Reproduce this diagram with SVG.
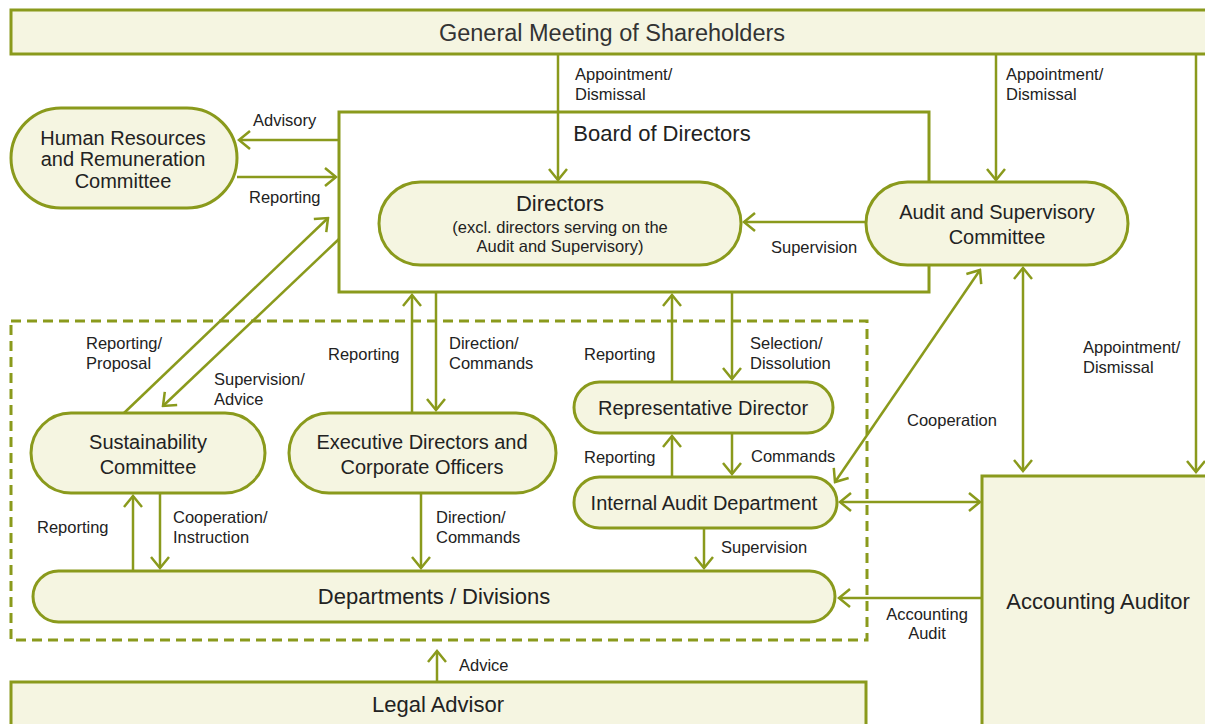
<svg xmlns="http://www.w3.org/2000/svg" width="1205" height="724" viewBox="0 0 1205 724">
<style>
.n{fill:#f5f5e1;stroke:#8a9a1c;stroke-width:3}
.w{fill:#ffffff;stroke:#8a9a1c;stroke-width:3}
.d{fill:none;stroke:#8a9a1c;stroke-width:3;stroke-dasharray:10 6}
.c{fill:none;stroke:#8a9a1c;stroke-width:2.5}
.a{marker-end:url(#ah)}
.b{marker-start:url(#ah);marker-end:url(#ah)}
text{font-family:"Liberation Sans",Arial,sans-serif;fill:#222}
.t23{font-size:23.5px;text-anchor:middle;fill:#333}
.t22{font-size:22px;text-anchor:middle}
.t20{font-size:20px;text-anchor:middle}
.l{font-size:16.5px}
.lc{font-size:16.5px;text-anchor:middle}
</style>
<defs>
<marker id="ah" viewBox="-2 -2 15 22" refX="11" refY="9" markerWidth="15" markerHeight="22" orient="auto-start-reverse" markerUnits="userSpaceOnUse">
<path d="M0,0 L11,9 L0,18" fill="none" stroke="#8a9a1c" stroke-width="2.5"/>
</marker>
</defs>

<g id="general-meeting">
<rect class="n" x="11" y="10" width="1200" height="44"/>
<text class="t23" x="612" y="41">General Meeting of Shareholders</text>
</g>

<g id="board">
<rect class="w" x="339" y="112" width="590" height="180"/>
<text class="t22" x="662" y="141">Board of Directors</text>
</g>

<g id="hr-committee">
<rect class="n" x="11" y="108" width="226" height="100" rx="50"/>
<text class="t20" x="123" y="145">Human Resources</text>
<text class="t20" x="123" y="166">and Remuneration</text>
<text class="t20" x="123" y="188">Committee</text>
</g>

<g id="directors">
<rect class="n" x="379" y="182" width="362" height="83" rx="41.5"/>
<text class="t22" x="560" y="211">Directors</text>
<text class="lc" x="560" y="233">(excl. directors serving on the</text>
<text class="lc" x="560" y="252">Audit and Supervisory)</text>
</g>

<g id="audit-committee">
<rect class="n" x="866" y="182" width="262" height="83" rx="41.5"/>
<text class="t20" x="997" y="219">Audit and Supervisory</text>
<text class="t20" x="997" y="244">Committee</text>
</g>

<g id="executive-scope">
<rect class="d" x="11" y="321" width="856" height="319"/>
</g>

<g id="sustainability">
<rect class="n" x="31" y="413" width="234" height="80" rx="40"/>
<text class="t20" x="148" y="449">Sustainability</text>
<text class="t20" x="148" y="474">Committee</text>
</g>

<g id="executive-directors">
<rect class="n" x="289" y="413" width="267" height="80" rx="40"/>
<text class="t20" x="422" y="449">Executive Directors and</text>
<text class="t20" x="422" y="474">Corporate Officers</text>
</g>

<g id="representative-director">
<rect class="n" x="574" y="382" width="259" height="51" rx="25.5"/>
<text class="t20" x="703" y="415">Representative Director</text>
</g>

<g id="internal-audit">
<rect class="n" x="574" y="477" width="263" height="51" rx="25.5"/>
<text class="t20" x="704" y="510">Internal Audit Department</text>
</g>

<g id="departments">
<rect class="n" x="33" y="571" width="802" height="51" rx="25.5"/>
<text class="t22" x="434" y="604">Departments / Divisions</text>
</g>

<g id="accounting-auditor">
<rect class="n" x="982" y="476" width="230" height="260"/>
<text class="t22" x="1098" y="609">Accounting Auditor</text>
</g>

<g id="legal-advisor">
<rect class="n" x="11" y="682" width="855" height="50"/>
<text class="t22" x="438" y="712">Legal Advisor</text>
</g>

<g id="connectors">
<path class="c a" d="M558,54 V180"/>
<path class="c a" d="M996,54 V180"/>
<path class="c a" d="M1196,54 V472"/>
<path class="c a" d="M339,140 H239"/>
<path class="c a" d="M237,177 H336"/>
<path class="c a" d="M866,222 H744"/>
<path class="c a" d="M124,413 L328,218"/>
<path class="c a" d="M339,239 L163,406"/>
<path class="c a" d="M412,413 V295"/>
<path class="c a" d="M436,292 V410"/>
<path class="c a" d="M672,382 V295"/>
<path class="c a" d="M732,292 V379"/>
<path class="c a" d="M672,477 V436"/>
<path class="c a" d="M732,433 V474"/>
<path class="c b" d="M835,482 L980,270"/>
<path class="c b" d="M1023,268 V471"/>
<path class="c b" d="M840,502 H980"/>
<path class="c a" d="M704,528 V568"/>
<path class="c a" d="M982,598 H839"/>
<path class="c a" d="M133,571 V496"/>
<path class="c a" d="M160,493 V568"/>
<path class="c a" d="M421,493 V568"/>
<path class="c a" d="M437,682 V651"/>

<text class="l" x="575" y="80">Appointment/</text>
<text class="l" x="575" y="100">Dismissal</text>
<text class="l" x="1006" y="80">Appointment/</text>
<text class="l" x="1006" y="100">Dismissal</text>
<text class="l" x="1083" y="353">Appointment/</text>
<text class="l" x="1083" y="373">Dismissal</text>
<text class="l" x="253" y="126">Advisory</text>
<text class="l" x="249" y="203">Reporting</text>
<text class="l" x="771" y="253">Supervision</text>
<text class="l" x="86" y="349">Reporting/</text>
<text class="l" x="86" y="369">Proposal</text>
<text class="l" x="214" y="385">Supervision/</text>
<text class="l" x="214" y="405">Advice</text>
<text class="l" x="328" y="360">Reporting</text>
<text class="l" x="449" y="349">Direction/</text>
<text class="l" x="449" y="369">Commands</text>
<text class="l" x="584" y="360">Reporting</text>
<text class="l" x="750" y="349">Selection/</text>
<text class="l" x="750" y="369">Dissolution</text>
<text class="l" x="907" y="426">Cooperation</text>
<text class="l" x="584" y="463">Reporting</text>
<text class="l" x="751" y="462">Commands</text>
<text class="l" x="37" y="533">Reporting</text>
<text class="l" x="173" y="523">Cooperation/</text>
<text class="l" x="173" y="543">Instruction</text>
<text class="l" x="436" y="523">Direction/</text>
<text class="l" x="436" y="543">Commands</text>
<text class="l" x="721" y="553">Supervision</text>
<text class="lc" x="927" y="620">Accounting</text>
<text class="lc" x="927" y="639">Audit</text>
<text class="l" x="459" y="671">Advice</text>
</g>
</svg>
